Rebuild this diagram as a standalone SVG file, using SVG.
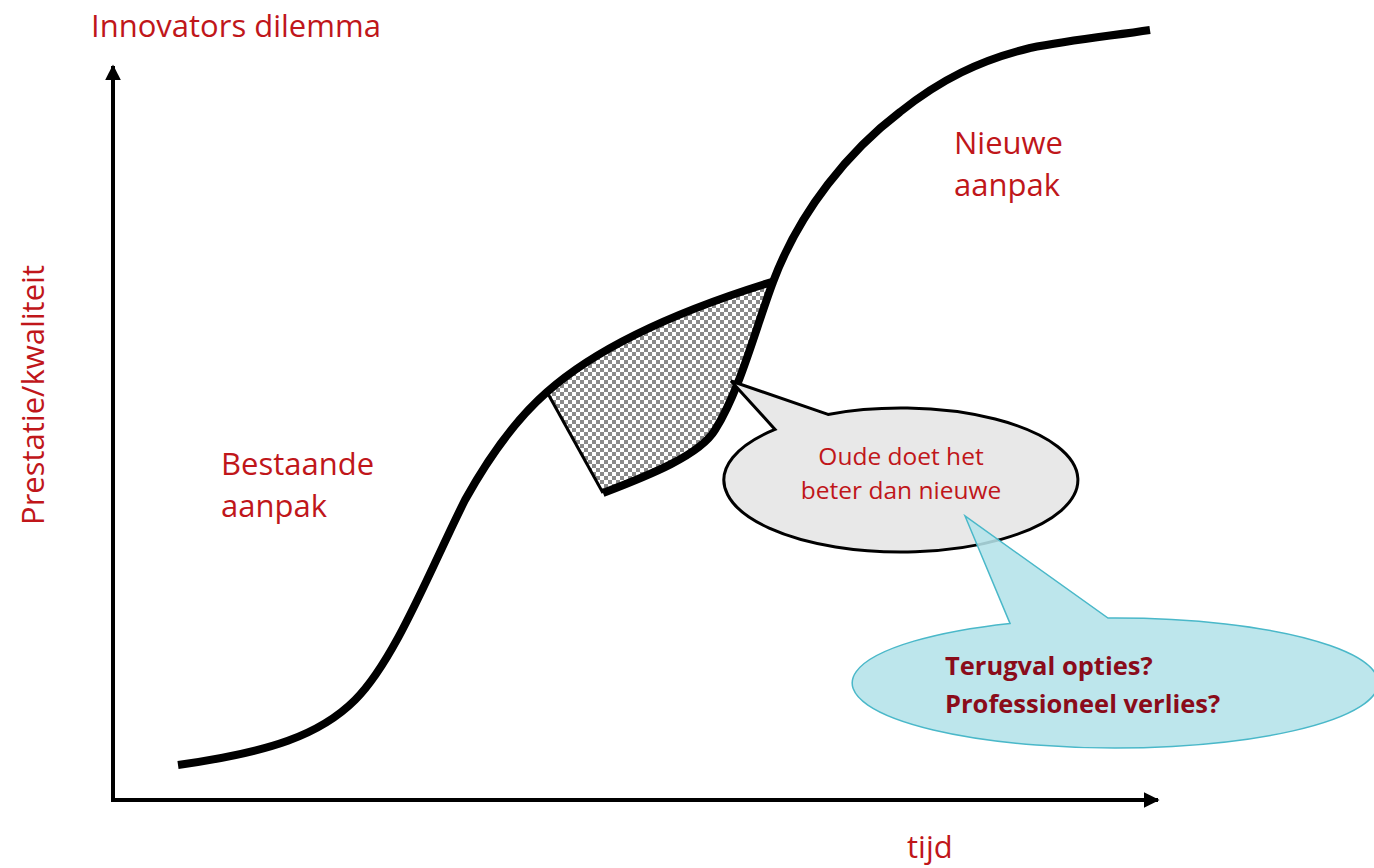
<svg xmlns="http://www.w3.org/2000/svg" width="1374" height="868" viewBox="0 0 1374 868">
<style>
.lbl{font-family:"Open Sans","Noto Sans","Liberation Sans",sans-serif;fill:#c0161a;font-size:31px}
.curve{fill:none;stroke:#000;stroke-width:8;stroke-linejoin:round}
.axis{fill:none;stroke:#000;stroke-width:4}
.b1{font-family:"Open Sans","Noto Sans","Liberation Sans",sans-serif;fill:#c0161a;font-size:24.5px}
.b2{font-family:"Open Sans","Noto Sans","Liberation Sans",sans-serif;fill:#8a0c1a;font-size:25.5px;font-weight:bold}
</style>
<defs>
<pattern id="chk" patternUnits="userSpaceOnUse" width="8" height="8">
<rect width="8" height="8" fill="#fff"/>
<rect width="4" height="4" fill="#8a8a8a"/>
<rect x="4" y="4" width="4" height="4" fill="#8a8a8a"/>
</pattern>
<marker id="arr" viewBox="0 0 10 10" refX="9" refY="5" markerWidth="4" markerHeight="4" orient="auto" markerUnits="strokeWidth">
<path d="M0,0 L10,5 L0,10 Z" fill="#000"/>
</marker>
</defs>
<rect width="1374" height="868" fill="#fff"/>
<g id="connectors">
<path id="shade" d="M547,392 C600,345 680,310 773,282 C755,330 740,390 715,430 C700,455 650,475 603,493 Z" fill="url(#chk)"/>
<line x1="603" y1="493" x2="547" y2="392" stroke="#000" stroke-width="3"/>
<path id="y-axis" class="axis" d="M113,802 L113,66" marker-end="url(#arr)"/>
<path id="x-axis" class="axis" d="M111,800 L1158,800" marker-end="url(#arr)"/>
<path id="old-curve" class="curve" d="M178,765 C270,752 320,735 355,700 C395,660 430,570 465,500 C490,455 515,420 547,392 C600,345 680,310 775,281"/>
<path id="new-curve" class="curve" d="M603,493 C650,475 700,455 715,430 C740,390 755,330 773,282 C800,210 850,150 900,112 C940,80 980,60 1030,48 C1070,40 1110,36 1150,30"/>
</g>
<g id="title"><text class="lbl" x="91" y="37">Innovators dilemma</text></g>
<g id="y-label"><text class="lbl" transform="translate(44,525) rotate(-90)">Prestatie/kwaliteit</text></g>
<g id="x-label"><text class="lbl" x="907" y="858">tijd</text></g>
<g id="nieuwe"><text class="lbl" x="954" y="154">Nieuwe</text><text class="lbl" x="954" y="196">aanpak</text></g>
<g id="bestaande"><text class="lbl" x="221" y="475">Bestaande</text><text class="lbl" x="221" y="517">aanpak</text></g>
<g id="bubble1">
<path d="M828,414.4 L731,381 L775,429.4 A177,72 0 1 0 828,414.4 Z" fill="#e8e8e8" stroke="#000" stroke-width="3" stroke-linejoin="miter"/>
<text class="b1" x="901" y="465" text-anchor="middle">Oude doet het</text>
<text class="b1" x="901" y="499" text-anchor="middle">beter dan nieuwe</text>
</g>
<g id="bubble2">
<path d="M1010,623.4 L965,516 L1108,618 A263,65 0 1 1 1010,623.4 Z" fill="#b4e2e9" fill-opacity="0.88" stroke="#4ab8c9" stroke-width="1.5"/>
<text class="b2" x="945" y="675">Terugval opties?</text>
<text class="b2" x="945" y="713">Professioneel verlies?</text>
</g>
</svg>
